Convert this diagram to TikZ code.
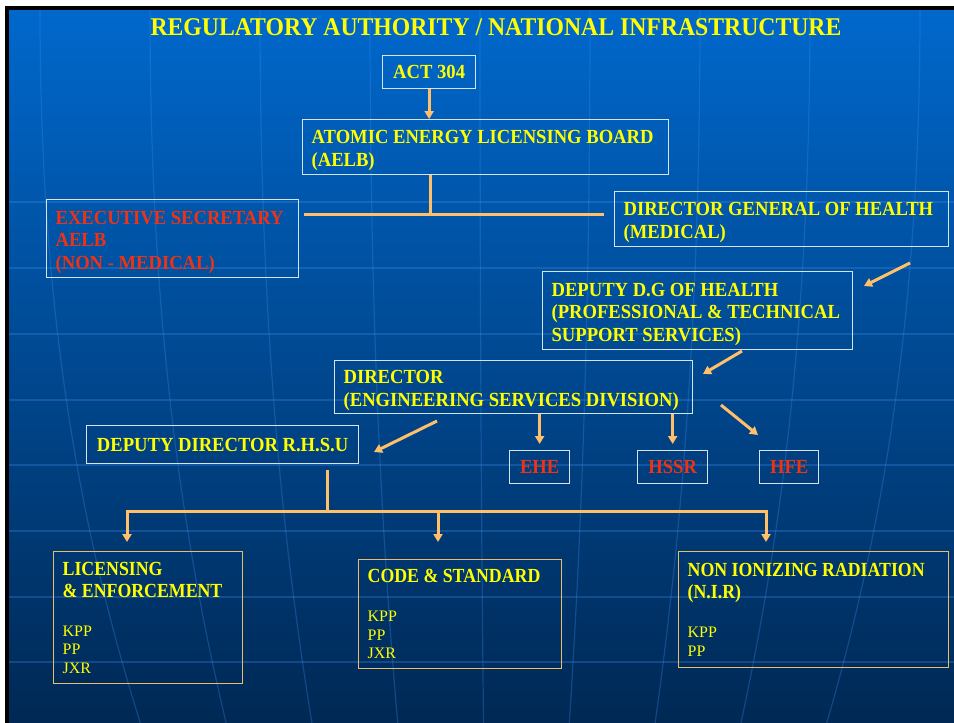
\documentclass[tikz,border=0pt]{standalone}
\usepackage{fontspec}
\setmainfont{Liberation Serif}[FakeStretch=0.93]
\newfontfamily\lowfamily{Liberation Serif}[FakeStretch=0.89]
\newfontfamily\plainfamily{Liberation Serif}
\usetikzlibrary{arrows.meta}
\definecolor{bgtop}{RGB}{0,104,204}
\definecolor{bgmid}{RGB}{0,78,152}
\definecolor{bgbot}{RGB}{0,40,84}
\definecolor{gridc}{RGB}{60,140,235}
\definecolor{titley}{RGB}{255,255,0}
\definecolor{redtxt}{RGB}{240,50,20}
\definecolor{arrowc}{RGB}{255,192,105}
\definecolor{framew}{RGB}{215,228,238}
\definecolor{frameg}{RGB}{232,190,105}
\newcommand{\itemfont}{\plainfamily\fontsize{16}{18.5}\selectfont\mdseries}
\begin{document}
\begin{tikzpicture}[x=1pt,y=-1pt,
  frame/.style={draw=framew, line width=1.3pt, anchor=north west, align=flush left,
    inner xsep=9pt, inner ysep=1pt, text=titley,
    execute at begin node={\parindent=0pt\spaceskip=0pt\xspaceskip=0pt\hyphenpenalty=10000},
    font=\fontsize{20}{22.5}\selectfont\bfseries},
  box/.style={frame, execute at begin node={\rule{0pt}{20pt}}},
  midbox/.style={frame, align=center},
  lowbox/.style={frame, draw=frameg, font=\lowfamily\fontsize{20}{22}\selectfont\bfseries},
  link/.style={draw=arrowc, line width=3pt},
  arr/.style={link, -{Triangle[width=9pt,length=8pt]}},
  globe/.style={gridc, line width=1.2pt, opacity=0.3}]
\useasboundingbox (0,0) rectangle (954,723);
% background and frame
\fill[white] (0,0) rectangle (954,723);
\fill[black] (5,6) rectangle (954,723);
\shade[top color=bgtop, middle color=bgmid, bottom color=bgbot] (9,10) rectangle (954,723);
\foreach \y in {202,268,334,400,465,531,597,662}
  \draw[globe] (9,\y) -- (954,\y);
\foreach \x in {40,150,260,370,480,590,700,810,920}
  \draw[globe] (\x,10) .. controls (\x,300) and ({496+(\x-496)*0.92},520) .. ({496+(\x-496)*0.78},723);
% title
\node[font=\fontsize{25.5}{28}\selectfont\bfseries, text=titley] (title) at (496,27)
  {REGULATORY AUTHORITY / NATIONAL INFRASTRUCTURE};
% boxes
\node[midbox, minimum width=93pt, minimum height=33pt] (act) at (382,55) {ACT 304};
\node[box, text width=348pt, minimum height=55pt] (aelb) at (302,119)
  {ATOMIC ENERGY LICENSING BOARD\\(AELB)};
\node[box, text=redtxt, text width=234pt, minimum height=78pt] (exec) at (46,199)
  {EXECUTIVE SECRETARY\\AELB\\(NON - MEDICAL)};
\node[box, text width=316pt, minimum height=55pt] (dg) at (614,191)
  {DIRECTOR GENERAL OF HEALTH\\(MEDICAL)};
\node[box, text width=292pt, minimum height=78pt] (depdg) at (542,271)
  {DEPUTY D.G OF HEALTH\\(PROFESSIONAL \& TECHNICAL\\SUPPORT SERVICES)};
\node[box, text width=340pt, minimum height=53pt] (dir) at (334,360)
  {DIRECTOR\\(ENGINEERING SERVICES DIVISION)};
\node[midbox, minimum width=272pt, minimum height=38pt] (rhsu) at (86,425)
  {DEPUTY DIRECTOR R.H.S.U};
\foreach \n/\x/\w/\t in {ehe/509/60/EHE, hssr/637/70/HSSR, hfe/759/59/HFE}
  \node[midbox, text=redtxt, minimum width=\w pt, minimum height=33pt] (\n) at (\x,450) {\t};
\node[lowbox, text width=171pt, minimum height=132pt] (lic) at (53,551)
  {LICENSING\\\& ENFORCEMENT\par\vskip20.5pt{\itemfont KPP\\PP\\JXR\par}};
\node[lowbox, text width=185pt, minimum height=109pt] (code) at (358,559)
  {CODE \& STANDARD\par\vskip20.5pt{\itemfont KPP\\PP\\JXR\par}};
\node[lowbox, text width=252pt, minimum height=116pt] (nir) at (678,551)
  {NON IONIZING RADIATION\\(N.I.R)\par\vskip20.5pt{\itemfont KPP\\PP\par}};
% connectors
\coordinate (split) at (430,214);
\draw[arr] (act.south) -- (act.south |- aelb.north);
\draw[link] (split |- aelb.south) -- (split);
\draw[link] ([xshift=5pt]exec.east |- split) -- ([xshift=-10pt]dg.west |- split);
\coordinate (dgout) at (910,263);
\coordinate (depin) at (864,286);
\draw[arr] (dgout) -- (depin);
\coordinate (depout) at (742,351);
\coordinate (dirin) at (703,374);
\draw[arr] (depout) -- (dirin);
\coordinate (dirout) at (437,421);
\coordinate (rhsuin) at (374,452);
\draw[arr] (dirout) -- (rhsuin);
\draw[arr, shorten >=6pt] (dir.south -| ehe.north) -- (ehe.north);
\draw[arr, shorten >=6pt] (dir.south -| hssr.north) -- (hssr.north);
\coordinate (hfeout) at (721,405);
\coordinate (hfein) at (758,435);
\draw[arr] (hfeout) -- (hfein);
\coordinate (bus) at (327,511);
\draw[link] (327,470) -- (bus);
\draw[arr] (bus) -- (127,511) -- (127,542);
\draw[arr] (bus) -- (766,511) -- (766,542);
\draw[arr] (438,511) -- (438,542);
\end{tikzpicture}
\end{document}
